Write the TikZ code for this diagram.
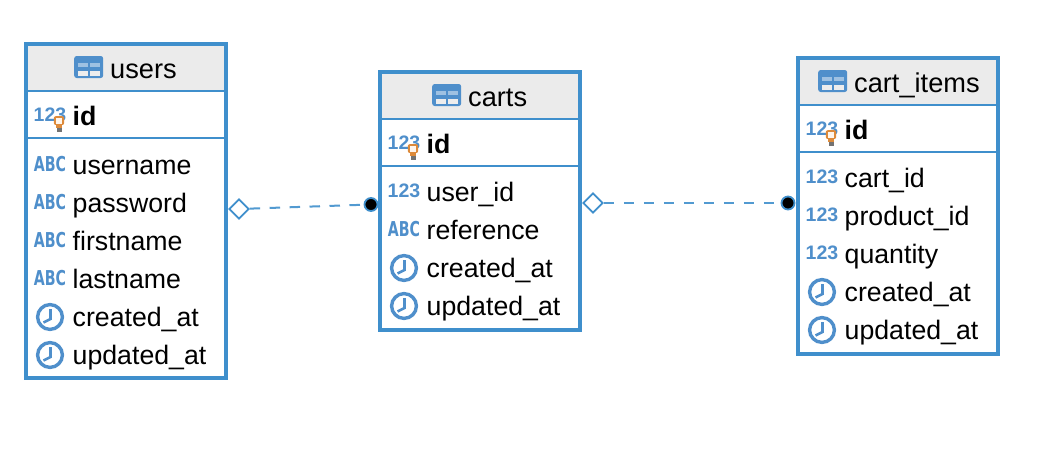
\documentclass[tikz,border=0pt]{standalone}
\usepackage{fontspec}
\usepackage{graphicx}
\setmainfont{Liberation Sans}
\newfontfamily\abcfont{DejaVu Sans}
\usetikzlibrary{shapes.geometric,calc}
\definecolor{erblue}{HTML}{3F8FCC}
\definecolor{iconblue}{HTML}{4F8FCB}
\definecolor{headgray}{HTML}{EBEBEB}
\definecolor{keyorange}{HTML}{DD8A3A}
\newcommand{\fs}[1]{\fontsize{#1}{#1}\selectfont}
\tikzset{
  x=1pt,y=-1pt,
  tablebox/.style={draw=erblue,line width=3.8pt,fill=none,inner sep=0pt,rectangle},
  sepline/.style={draw=erblue,line width=2pt},
  headfill/.style={fill=headgray,draw=none,inner sep=0pt,rectangle},
  fieldtext/.style={anchor=base west,inner sep=0pt,text=black,font=\fs{26.7}},
  idtext/.style={anchor=base west,inner sep=0pt,text=black,font=\fs{26.7}\bfseries},
  headtext/.style={anchor=base west,inner sep=0pt,text=black,font=\fs{27.2}},
  numicon/.style={anchor=base,inner sep=0pt,text=iconblue,font=\fs{19.5}\bfseries},
  abcicon/.style={anchor=base,inner sep=0pt,text=iconblue,font=\abcfont\fs{20.5}\bfseries},
  reldash/.style={draw=erblue!90!white,line width=2pt,dash pattern=on 10.5pt off 9.5pt},
  reldiamond/.style={diamond,draw=erblue,line width=1.8pt,fill=white,inner sep=0pt,minimum width=20pt,minimum height=20pt,aspect=1},
  reldot/.style={circle,draw=erblue,line width=1.8pt,fill=black,inner sep=0pt,minimum size=13pt},
  pics/tableicon/.style={code={
    \fill[iconblue,rounded corners=2.5pt] (-14.5,-11) rectangle (14.5,11);
    \fill[iconblue!55!white] (-10.4,-4.4) rectangle (-0.6,0.3);
    \fill[iconblue!55!white] (1.6,-4.4) rectangle (11.4,0.3);
    \fill[black!7] (-10.4,3.7) rectangle (-0.6,8.7);
    \fill[black!7] (1.6,3.7) rectangle (11.4,8.7);
  }},
  pics/clockicon/.style={code={
    \draw[iconblue,line width=3.4pt,fill=white] (0,0) circle[radius=12.4];
    \draw[iconblue,line width=2.6pt] (0.5,-8) -- (0.5,2) -- (-6.5,5.5);
  }},
  pics/keyicon/.style={code={
    \fill[black!55] (-2.5,3) rectangle (2.5,9.5);
    \fill[keyorange,rounded corners=2pt] (-5.2,-5.8) rectangle (5.2,3);
    \fill[keyorange] (-3,2) rectangle (3,5.5);
    \fill[orange!8!white] (-3,-3.6) rectangle (3,1.5);
  }},
}
\newcommand{\dbtable}[9]{%
  % #1 name, #2 left, #3 top, #4 right, #5 bottom, #6 first line, #7 second line, #8 title, #9 title x
  \node[headfill,minimum width=#4pt-#2pt,minimum height=#6pt-#3pt] (#1-head) at ({(#2+#4)/2},{(#3+#6)/2}) {};
  \draw[sepline] (#2,#6) -- (#4,#6);
  \draw[sepline] (#2,#7) -- (#4,#7);
  \node[tablebox,minimum width=#4pt-#2pt,minimum height=#5pt-#3pt] (#1) at ({(#2+#4)/2},{(#3+#5)/2}) {};
  \pic at ({#9-21.3},{#3+23}) {tableicon};
  \node[headtext] (#1-title) at (#9,{#3+34}) {#8};
}
\newcommand{\numrow}[4]{%
  \node[numicon] (#1-icon) at ({#2+24},{#3+5}) {123};
  \node[fieldtext] (#1) at ({#2+46.5},{#3+9}) {#4};
}
\newcommand{\abcrow}[4]{%
  \node[abcicon] (#1-icon) at ({#2+24},{#3+6}) {\scalebox{.69}[1]{ABC}};
  \node[fieldtext] (#1) at ({#2+46.5},{#3+9}) {#4};
}
\newcommand{\clockrow}[4]{%
  \pic at ({#2+24},{#3}) {clockicon};
  \node[fieldtext] (#1) at ({#2+46.5},{#3+9}) {#4};
}
\newcommand{\idrow}[3]{%
  \node[numicon] (#1-icon) at ({#2+24},{#3+5}) {123};
  \pic at ({#2+33},{#3+6}) {keyicon};
  \node[idtext] (#1) at ({#2+46.5},{#3+9}) {id};
}
\begin{document}
\begin{tikzpicture}
\useasboundingbox (0,0) rectangle (1050,458);
\fill[white] (0,0) rectangle (1050,458);

% users
\dbtable{users}{26}{44}{226}{378}{91}{138}{users}{110}
\idrow{u-id}{26}{116}
\abcrow{u-username}{26}{165}{username}
\abcrow{u-password}{26}{203}{password}
\abcrow{u-firstname}{26}{241}{firstname}
\abcrow{u-lastname}{26}{279}{lastname}
\clockrow{u-created}{26}{317}{created\_at}
\clockrow{u-updated}{26}{355}{updated\_at}

% carts
\dbtable{carts}{380}{72}{580}{330}{119}{166}{carts}{468}
\idrow{c-id}{380}{144}
\numrow{c-userid}{380}{192}{user\_id}
\abcrow{c-reference}{380}{230}{reference}
\clockrow{c-created}{380}{268}{created\_at}
\clockrow{c-updated}{380}{306}{updated\_at}

% cart_items
\dbtable{items}{798}{58}{998}{354}{105}{152}{cart\_items}{854}
\idrow{i-id}{798}{130}
\numrow{i-cartid}{798}{178}{cart\_id}
\numrow{i-productid}{798}{216}{product\_id}
\numrow{i-quantity}{798}{254}{quantity}
\clockrow{i-created}{798}{292}{created\_at}
\clockrow{i-updated}{798}{330}{updated\_at}

% relations
\node[reldiamond] (d1) at (239,209) {};
\node[reldot] (p1) at (371,204.5) {};
\draw[reldash] (d1) -- (p1);
\node[reldiamond] (d2) at (593,203) {};
\node[reldot] (p2) at (788,203) {};
\draw[reldash] (d2) -- (p2);
\end{tikzpicture}
\end{document}
